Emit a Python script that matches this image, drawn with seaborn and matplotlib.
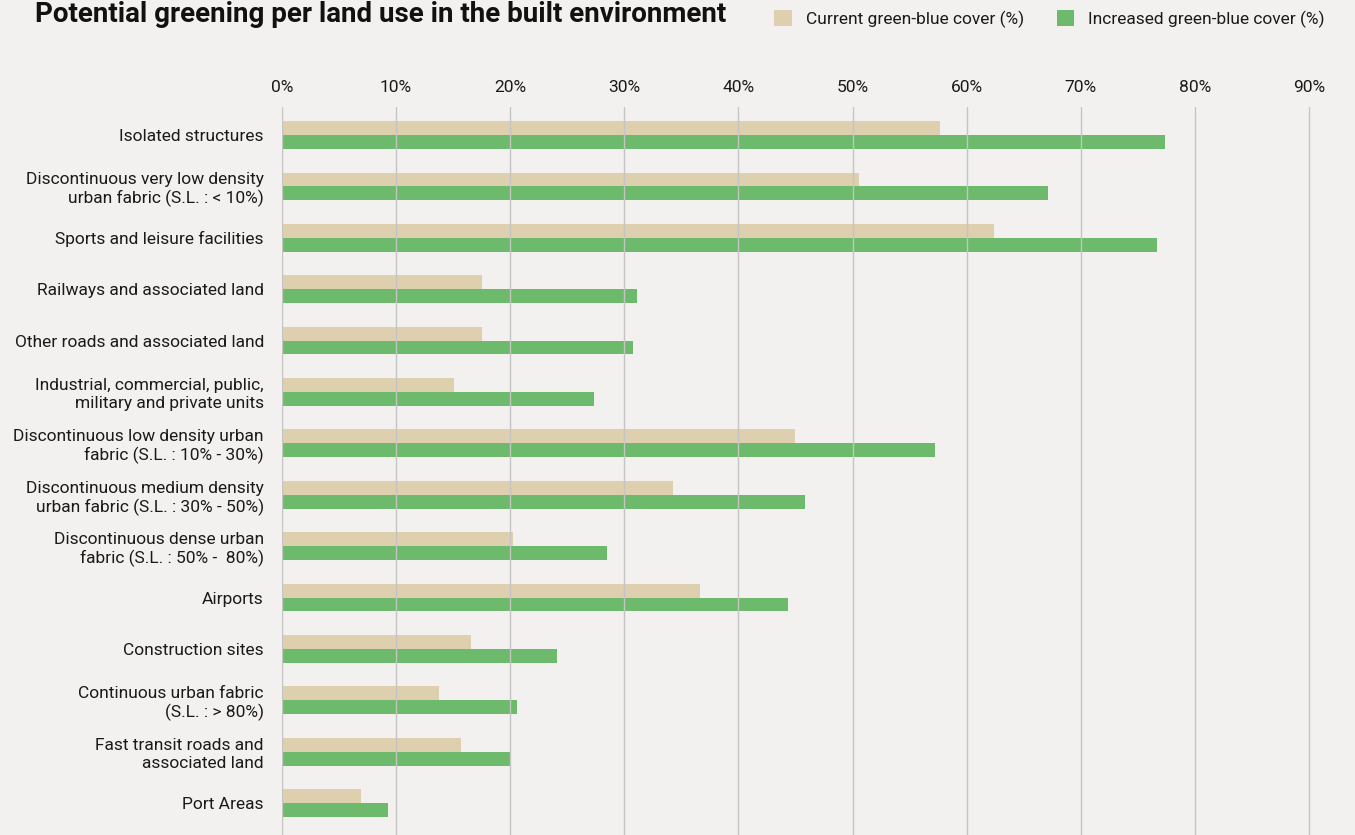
import pandas as pd
import seaborn as sns
import matplotlib.pyplot as plt
import matplotlib.ticker as ticker
from matplotlib.patches import Patch

# data
categories = [
    "Isolated structures",
    "Discontinuous very low density\nurban fabric (S.L. : < 10%)",
    "Sports and leisure facilities",
    "Railways and associated land",
    "Other roads and associated land",
    "Industrial, commercial, public,\nmilitary and private units",
    "Discontinuous low density urban\nfabric (S.L. : 10% - 30%)",
    "Discontinuous medium density\nurban fabric (S.L. : 30% - 50%)",
    "Discontinuous dense urban\nfabric (S.L. : 50% -  80%)",
    "Airports",
    "Construction sites",
    "Continuous urban fabric\n(S.L. : > 80%)",
    "Fast transit roads and\nassociated land",
    "Port Areas",
]
current = [57.7, 50.6, 62.4, 17.5, 17.5, 15.1, 45.0, 34.3, 20.2, 36.6, 16.6, 13.8, 15.7, 6.9]
increased = [77.4, 67.1, 76.7, 31.1, 30.8, 27.3, 57.2, 45.8, 28.5, 44.3, 24.1, 20.6, 20.0, 9.3]
series = ["Current green-blue cover (%)", "Increased green-blue cover (%)"]
colors = ["#DED0AF", "#6DBA6D"]

df = pd.DataFrame({
    "cat": categories * 2,
    "value": current + increased,
    "series": [series[0]] * len(categories) + [series[1]] * len(categories),
})

sns.set_theme(style="white")
plt.rcParams["font.family"] = ["Roboto", "DejaVu Sans"]
bg = "#F2F1EF"

fig = plt.figure(figsize=(13.55, 8.35), dpi=100, facecolor=bg)
# axes runs a little past the 90% line so the last gridline is not clipped
ax = fig.add_axes([282 / 1355, 0, 1038 / 1355, 1 - 107 / 835], facecolor=bg)

sns.barplot(data=df, y="cat", x="value", hue="series", hue_order=series,
            palette=colors, orient="h", width=0.54, ax=ax, legend=False,
            saturation=1, linewidth=0)

ax.set_xlim(0, 90 * 1038 / 1027)
ax.set_ylim(13.62, -0.545)
ax.xaxis.set_major_locator(ticker.FixedLocator(range(0, 91, 10)))
ax.xaxis.set_major_formatter(ticker.FuncFormatter(lambda v, p: f"{v:.0f}%"))
ax.xaxis.tick_top()
ax.tick_params(axis="x", length=0, pad=9, labelsize=12.5, colors="#1a1a1a")
ax.tick_params(axis="y", length=0, pad=13, labelsize=12.5, colors="#1a1a1a")
ax.grid(axis="x", color="#C4C4C4", linewidth=1.0)
ax.set_axisbelow(False)
ax.set_xlabel("")
ax.set_ylabel("")
sns.despine(ax=ax, left=True, bottom=True, top=True, right=True)

fig.text(35 / 1355, 1 - 15 / 835, "Potential greening per land use in the built environment",
         fontsize=20, fontweight="bold", va="center", ha="left", color="#111111")

handles = [Patch(facecolor=c, edgecolor="none") for c in colors]
fig.legend(handles, series, loc="center right", bbox_to_anchor=(1340 / 1355, 1 - 19 / 835),
           ncol=2, frameon=False, fontsize=12.5, handlelength=1.0, handleheight=1.0,
           handletextpad=0.8, columnspacing=1.9, labelcolor="#1a1a1a")

fig.savefig("out.png", dpi=100, facecolor=bg)
plt.close()
